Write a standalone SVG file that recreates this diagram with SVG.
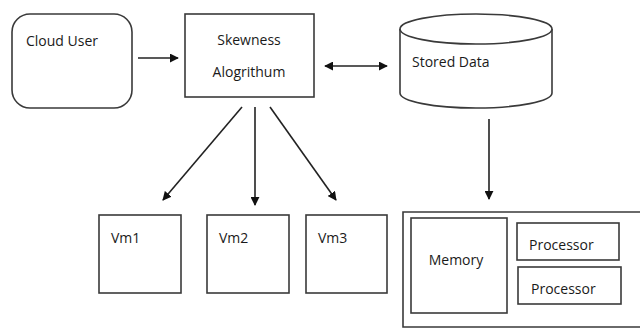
<svg xmlns="http://www.w3.org/2000/svg" width="640" height="329" viewBox="0 0 640 329">
<style>
.box{fill:#fff;stroke:#3a3a3a;stroke-width:1.6}
.t{font-family:"Open Sans","Liberation Sans",sans-serif;font-size:14px;fill:#1a1a1a}
.c{stroke:#222;stroke-width:1.6;fill:none}
</style>
<defs>
<marker id="ah2" viewBox="0 0 10 10" refX="9" refY="5" markerWidth="9" markerHeight="9" orient="auto-start-reverse" markerUnits="userSpaceOnUse">
<path d="M0,0 L10,5 L0,10 z" fill="#111"/>
</marker>
</defs>
<rect width="640" height="329" fill="#fff"/>
<g id="cloud-user">
<rect class="box" x="12" y="14" width="120" height="94" rx="18"/>
<text class="t" x="26" y="46">Cloud User</text>
</g>
<g id="skewness">
<rect class="box" x="185" y="14" width="129" height="83"/>
<text class="t" x="249" y="45" text-anchor="middle">Skewness</text>
<text class="t" x="249" y="77" text-anchor="middle">Alogrithum</text>
</g>
<g id="stored-data">
<path class="box" d="M400,29 L400,93 A76,15 0 0 0 552,93 L552,29"/>
<ellipse class="box" cx="476" cy="29" rx="76" ry="15"/>
<text class="t" x="412" y="67">Stored Data</text>
</g>
<g id="vm1">
<rect class="box" x="99" y="215" width="82" height="78"/>
<text class="t" x="111" y="243">Vm1</text>
</g>
<g id="vm2">
<rect class="box" x="207" y="215" width="82" height="78"/>
<text class="t" x="219" y="243">Vm2</text>
</g>
<g id="vm3">
<rect class="box" x="306" y="215" width="81" height="78"/>
<text class="t" x="318" y="243">Vm3</text>
</g>
<g id="host">
<path class="box" fill="none" d="M700,212 H403 V327 H700"/>
</g>
<g id="memory">
<rect class="box" x="411" y="218" width="96" height="95"/>
<text class="t" x="456" y="265" text-anchor="middle">Memory</text>
</g>
<g id="processor1">
<rect class="box" x="517" y="223" width="102" height="37"/>
<text class="t" x="529" y="250">Processor</text>
</g>
<g id="processor2">
<rect class="box" x="518" y="267" width="103" height="37"/>
<text class="t" x="531" y="294">Processor</text>
</g>
<g id="connectors">
<line class="c" x1="138" y1="58" x2="178" y2="58" marker-end="url(#ah2)"/>
<line class="c" x1="325" y1="66" x2="387" y2="66" marker-start="url(#ah2)" marker-end="url(#ah2)"/>
<line class="c" x1="242" y1="107" x2="163" y2="200" marker-end="url(#ah2)"/>
<line class="c" x1="255" y1="107" x2="255" y2="205" marker-end="url(#ah2)"/>
<line class="c" x1="270" y1="107" x2="336" y2="200" marker-end="url(#ah2)"/>
<line class="c" x1="489" y1="119" x2="489" y2="199" marker-end="url(#ah2)"/>
</g>
</svg>
